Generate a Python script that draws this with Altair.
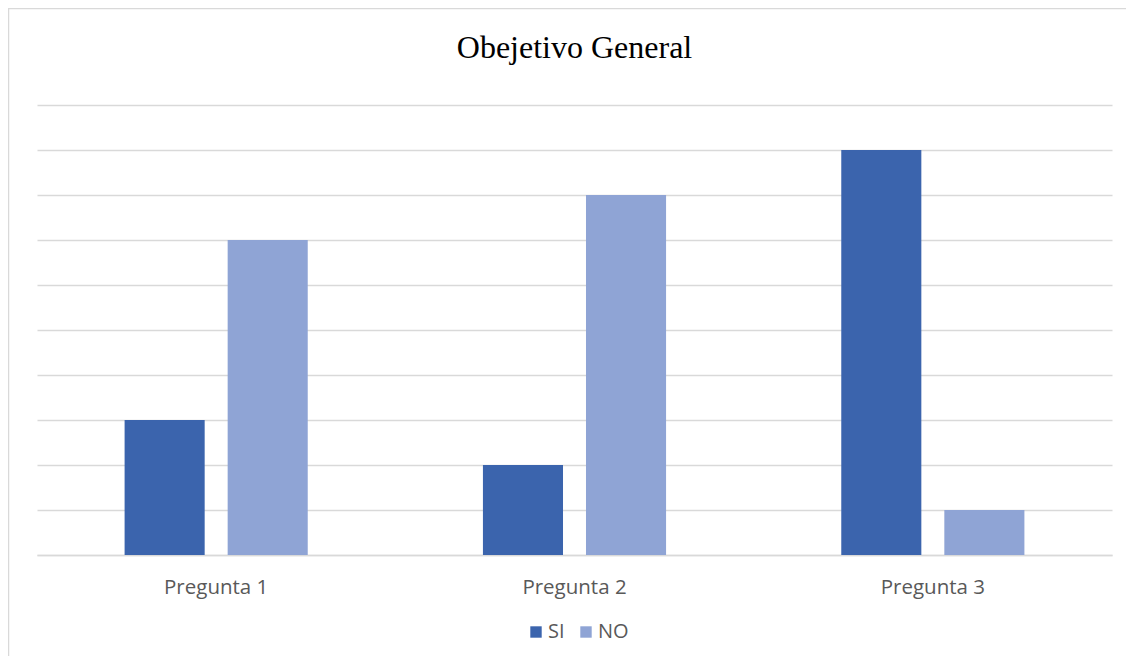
import altair as alt
import pandas as pd

categories = ["Pregunta 1", "Pregunta 2", "Pregunta 3"]
si_values = [3, 2, 9]
no_values = [7, 8, 1]
series = ["SI", "NO"]
colors = ["#3B64AD", "#8FA4D5"]

rows = []
for c, s, n in zip(categories, si_values, no_values):
    rows.append({"cat": c, "serie": "SI", "valor": s})
    rows.append({"cat": c, "serie": "NO", "valor": n})
df = pd.DataFrame(rows)

bars = alt.Chart(df).mark_bar().encode(
    x=alt.X("cat:N", sort=categories, title=None,
            scale=alt.Scale(paddingInner=0, paddingOuter=0),
            axis=alt.Axis(labelAngle=0, labelFont="Open Sans", labelFontSize=20.5,
                          labelColor="#595959", ticks=False, domain=True,
                          domainColor="#D9D9D9", domainWidth=1.5, labelPadding=22)),
    xOffset=alt.XOffset("serie:N", sort=series,
                        scale=alt.Scale(paddingInner=0.223, paddingOuter=0.85)),
    y=alt.Y("valor:Q", title=None, scale=alt.Scale(domain=[0, 10]),
            axis=alt.Axis(labels=False, ticks=False, domain=False, tickCount=10,
                          grid=True, gridColor="#D9D9D9", gridWidth=1.5)),
    color=alt.Color("serie:N", sort=series, title=None,
                    scale=alt.Scale(domain=series, range=colors),
                    legend=alt.Legend(orient="none", direction="horizontal",
                                      legendX=489, legendY=517,
                                      symbolType="square", symbolSize=130,
                                      symbolStrokeWidth=0,
                                      labelFont="Open Sans", labelFontSize=20,
                                      labelColor="#595959", columnPadding=11,
                                      symbolOffset=0, labelOffset=2)),
)

border = alt.Chart(pd.DataFrame({"a": [0]})).mark_rect(
    fillOpacity=0, stroke="#D9D9D9", strokeWidth=1.5
).encode(x=alt.value(-28.5), x2=alt.value(1150), y=alt.value(-96.5), y2=alt.value(700))

chart = alt.layer(border, bars).properties(
    width=1075, height=450,
    background="white",
    title=alt.Title("Obejetivo General", font="Liberation Serif", fontSize=32,
                    fontWeight="normal", color="#000000", anchor="middle",
                    frame="group", baseline="alphabetic", offset=0, dy=82),
    autosize=alt.AutoSizeParams(type="none"),
    padding={"left": 29, "top": 97, "right": 14, "bottom": 101},
).configure_view(stroke=None)

chart.save("out.html", embed_options={"renderer": "svg", "actions": False})
